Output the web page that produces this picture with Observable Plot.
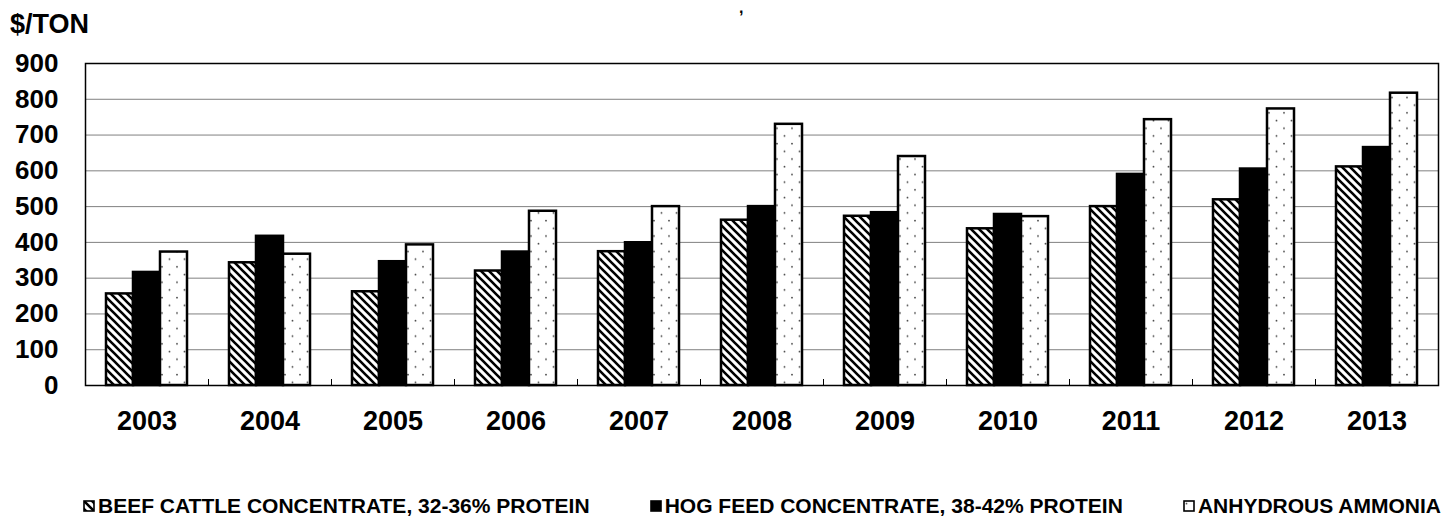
<!DOCTYPE html>
<html><head><meta charset="utf-8">
<script src="https://cdn.jsdelivr.net/npm/d3@7"></script>
<script src="https://cdn.jsdelivr.net/npm/@observablehq/plot@0.6"></script>
<style>
body{margin:0;background:#fff;font-family:"Liberation Sans",Arial,sans-serif;font-weight:bold;color:#000}
#wrap{position:relative;width:1450px;height:517px;overflow:hidden;background:#fff}
#head{position:relative;height:40px}
#comma{position:absolute;left:739px;top:0px;font-size:16px;line-height:16px}
#unit{position:absolute;left:10px;top:9px;font-size:27px;line-height:30px}
#legend{position:absolute;left:83px;width:1358px;top:494px;display:flex;justify-content:space-between;font-size:21px;line-height:24px;white-space:nowrap}
.item{display:flex;align-items:center}
.item svg{margin-right:3px}
g[aria-label="fx-axis tick label"]{font-size:27px}
</style></head><body>
<div id="wrap">
 <div id="head"><span id="comma">,</span><span id="unit">$/TON</span></div>
 <div id="chart"></div>
 <div id="legend"></div>
</div>
<script>
const years = [2003, 2004, 2005, 2006, 2007, 2008, 2009, 2010, 2011, 2012, 2013];
const seriesNames = ["BEEF CATTLE CONCENTRATE, 32-36% PROTEIN", "HOG FEED CONCENTRATE, 38-42% PROTEIN", "ANHYDROUS AMMONIA"];
const beef    = [256, 343, 262, 320, 374, 462, 473, 438, 500, 519, 611];
const hog     = [316, 417, 346, 373, 399, 500, 483, 478, 590, 605, 665];
const ammonia = [373, 367, 393, 487, 500, 730, 640, 472, 743, 773, 817];
const yTicks  = [0, 100, 200, 300, 400, 500, 600, 700, 800, 900];
const seriesFills = ["url(#hatch)", "#000", "url(#dots)"];

const seriesValues = [beef, hog, ammonia];
const rows = years.flatMap((yr, i) => seriesNames.map((s, k) => ({year: yr, series: s, value: seriesValues[k][i]})));

const plot = Plot.plot({
  width: 1450, height: 430,
  marginTop: 23, marginBottom: 85, marginLeft: 84, marginRight: 11,
  style: {fontFamily: "Liberation Sans, Arial, sans-serif", fontWeight: "bold", fontSize: "26px", color: "#000", background: "#fff", overflow: "visible"},
  fx: {domain: years, padding: 0, label: null, tickSize: 0, tickPadding: 25, axis: "bottom", tickFormat: d => String(d)},
  x: {domain: seriesNames, paddingInner: 0, paddingOuter: 0.72, axis: null},
  y: {domain: [0, 900], ticks: yTicks, tickSize: 0, tickPadding: 27, label: null},
  color: {domain: seriesNames, range: seriesFills},
  marks: [
    Plot.ruleY(yTicks.slice(1, -1), {stroke: "#808080", strokeWidth: 1}),
    Plot.frame({anchor: "left", insetTop: 316, stroke: "#000", strokeWidth: 1}),
    Plot.barY(rows, {fx: "year", x: "series", y: "value", fill: "series", stroke: "#000", strokeWidth: 2.5}),
    Plot.frame({facet: "super", stroke: "#000", strokeWidth: 1.5})
  ]
});

const svg = d3.select(plot);
const defs = svg.insert("defs", ":first-child");
const h = defs.append("pattern").attr("id", "hatch").attr("patternUnits", "userSpaceOnUse").attr("width", 8).attr("height", 8);
h.append("rect").attr("width", 8).attr("height", 8).attr("fill", "#fff");
h.append("path").attr("d", "M0,0L8,8M-4,4L4,12M4,-4L12,4").attr("stroke", "#000").attr("stroke-width", 2.6);
const p = defs.append("pattern").attr("id", "dots").attr("patternUnits", "userSpaceOnUse").attr("width", 15).attr("height", 15.4);
p.append("rect").attr("width", 15).attr("height", 15.4).attr("fill", "#fff");
p.append("circle").attr("cx", 3.5).attr("cy", 3.5).attr("r", 0.9).attr("fill", "#444");
p.append("circle").attr("cx", 11).attr("cy", 11.2).attr("r", 0.9).attr("fill", "#444");

document.getElementById("chart").appendChild(plot);

const legend = d3.select("#legend");
seriesNames.forEach((s, k) => {
  const it = legend.append("div").attr("class", "item");
  const sw = it.append("svg").attr("width", 12).attr("height", 12);
  sw.append("rect").attr("x", 1).attr("y", 1).attr("width", 10).attr("height", 10)
    .attr("fill", seriesFills[k]).attr("stroke", "#000").attr("stroke-width", 1.6);
  it.append("span").text(s);
});
</script>
</body></html>
